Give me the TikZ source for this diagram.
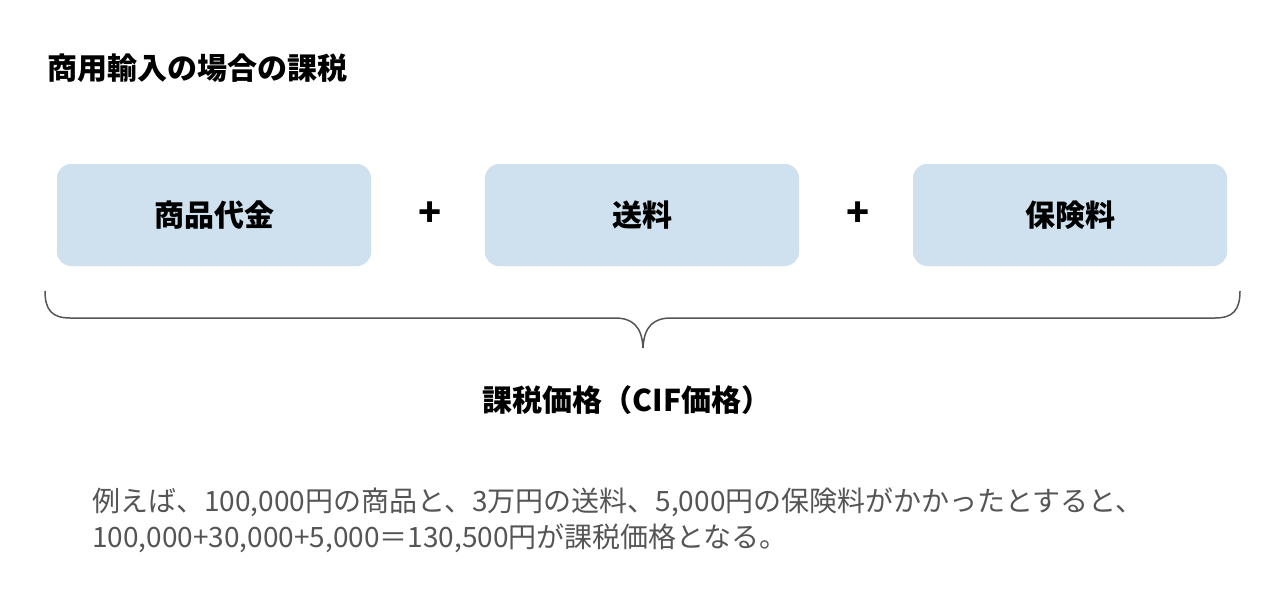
\documentclass[tikz,border=0pt]{standalone}
\usepackage{fontspec}
\setmainfont{Noto Sans CJK JP}
\definecolor{boxc}{HTML}{CFE0EF}
\definecolor{txt}{HTML}{555555}
\definecolor{brc}{HTML}{555555}
\begin{document}
\begin{tikzpicture}[x=1pt,y=-1pt,
  box/.style={fill=boxc,rounded corners=14pt,minimum width=314pt,minimum height=102pt,inner sep=0pt,font=\fontsize{30}{34}\selectfont\bfseries},
  plus/.style={font=\fontsize{38}{38}\selectfont\bfseries}]
\useasboundingbox[fill=white] (0,0) rectangle (1280,602);
\node[anchor=west,inner sep=0pt,font=\fontsize{30}{34}\selectfont\bfseries] (title) at (47,68) {商用輸入の場合の課税};
\node[box] (a) at (214,215) {商品代金};
\node[box] (b) at (642,215) {送料};
\node[box] (c) at (1070,215) {保険料};
\node[plus] (p1) at (430,214) {+};
\node[plus] (p2) at (858,214) {+};
\coordinate (bl) at (45,291);
\coordinate (br) at (1240,291);
\coordinate (tip) at (643,348);
\draw[brc,line width=1.5pt] (bl) .. controls (45,310) and (52,318) .. (70,318) -- (615,318) .. controls (632,318) and (642,326) .. (tip)
  .. controls (644,326) and (654,318) .. (671,318) -- (1215,318) .. controls (1233,318) and (1240,310) .. (br);
\node[font=\fontsize{30}{34}\selectfont\bfseries] (lab) at (627,400) {課税価格（CIF価格）};
\node[anchor=west,inner sep=0pt,text=txt,align=left,font=\fontsize{28}{36}\selectfont] (body) at (92,520) {例えば、100,000円の商品と、3万円の送料、5,000円の保険料がかかったとすると、\\100,000+30,000+5,000＝130,500円が課税価格となる。};
\end{tikzpicture}
\end{document}
